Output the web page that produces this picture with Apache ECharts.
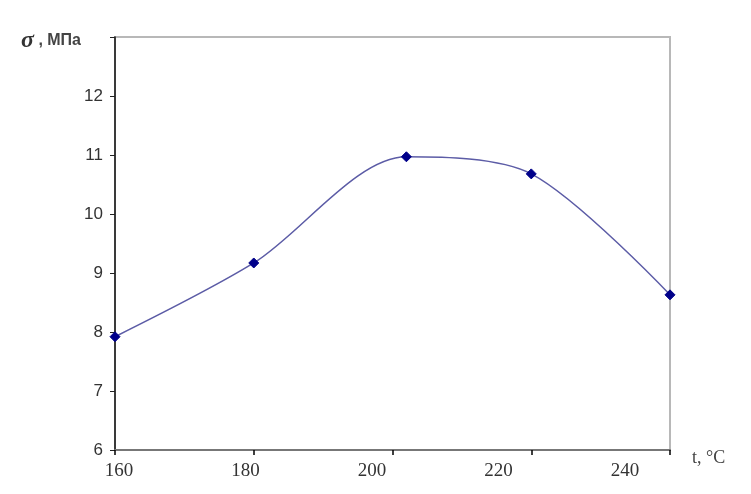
<!DOCTYPE html>
<html>
<head>
<meta charset="utf-8">
<script src="https://cdn.jsdelivr.net/npm/echarts@6/dist/echarts.min.js"></script>
<style>
html,body{margin:0;padding:0;background:#fff;}
#c{width:751px;height:494px;}
</style>
</head>
<body>
<div id="c"></div>
<script>
// Data
var temps = [160, 180, 202, 220, 240];
var sigma = [7.92, 9.17, 10.97, 10.68, 8.63];
var xTicks = [160, 180, 200, 220, 240];
var yTicks = [6, 7, 8, 9, 10, 11, 12, 13];

var points = temps.map(function (t, i) { return [t, sigma[i]]; });

var chart = echarts.init(document.getElementById('c'), null, { renderer: 'canvas' });
chart.setOption({
  animation: false,
  backgroundColor: '#ffffff',
  title: {
    left: 16, top: 24,
    text: '{s|σ}{n| , МПа}',
    textStyle: {
      rich: {
        s: { fontFamily: 'Liberation Serif', fontStyle: 'italic', fontSize: 24, color: '#333', fontWeight: 'bold' },
        n: { fontFamily: 'Liberation Sans', fontSize: 16, color: '#444', fontWeight: 'bold' }
      }
    }
  },
  graphic: [{
    type: 'text', left: 692, top: 449,
    style: { text: 't, °C', font: '18px "Liberation Serif"', fill: '#444' }
  }],
  grid: [
    { left: 115, right: 81, top: 37, bottom: 44, show: true, borderColor: '#b8b8b8', borderWidth: 2 },
    { left: 119, right: 126, top: 37, bottom: 44, show: false }
  ],
  xAxis: [
    {
      gridIndex: 0, type: 'value', min: xTicks[0], max: xTicks[xTicks.length - 1], interval: 20,
      axisLine: { show: true, onZero: false, lineStyle: { color: '#777', width: 2 } },
      axisTick: { show: true, length: 5, lineStyle: { color: '#000', width: 1.5 } },
      axisLabel: { show: false },
      splitLine: { show: false }
    },
    {
      gridIndex: 1, type: 'value', min: xTicks[0], max: xTicks[xTicks.length - 1], interval: 20,
      axisLine: { show: false }, axisTick: { show: false }, splitLine: { show: false },
      axisLabel: { show: true, margin: 12, fontFamily: 'Liberation Serif', fontSize: 19, color: '#333' }
    }
  ],
  yAxis: [
    {
      gridIndex: 0, type: 'value', min: yTicks[0], max: yTicks[yTicks.length - 1], interval: 1,
      axisLine: { show: true, onZero: false, lineStyle: { color: '#111', width: 1.5 } },
      axisTick: { show: true, length: 5, lineStyle: { color: '#222' } },
      axisLabel: {
        margin: 12, fontFamily: 'Liberation Sans', fontSize: 17, color: '#333',
        formatter: function (v) { return v === 13 ? '' : String(v); }
      },
      splitLine: { show: false }
    },
    {
      gridIndex: 1, type: 'value', min: 6, max: 13, show: false
    }
  ],
  series: [{
    type: 'line',
    xAxisIndex: 0, yAxisIndex: 0,
    data: points,
    smooth: 0.3,
    symbol: 'diamond',
    symbolSize: 10,
    lineStyle: { color: '#5c5ca6', width: 1.5 },
    itemStyle: { color: '#00008a', borderColor: '#00008a' }
  }]
});
</script>
</body>
</html>
